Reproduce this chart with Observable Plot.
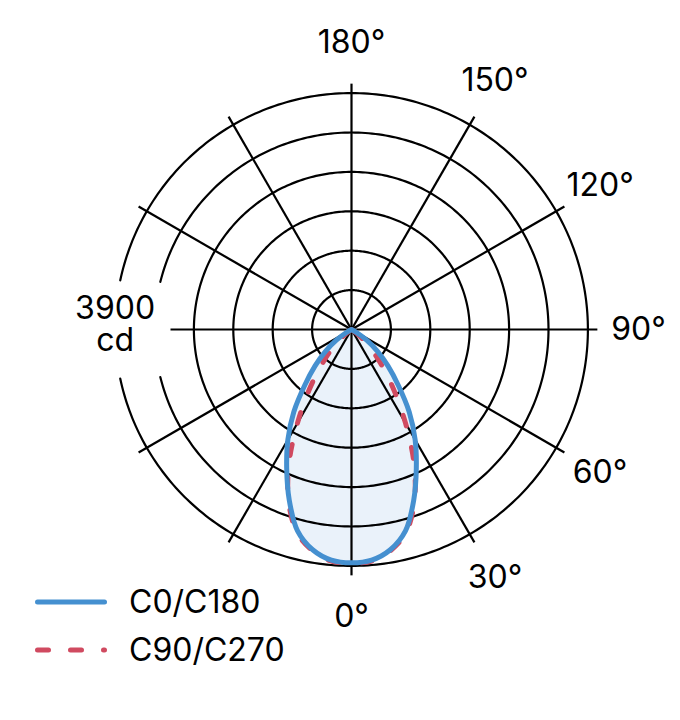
<!DOCTYPE html>
<html>
<head>
<meta charset="utf-8">
<script src="https://cdn.jsdelivr.net/npm/d3@7"></script>
<script src="https://cdn.jsdelivr.net/npm/@observablehq/plot@0.6"></script>
<style>
  body { margin: 0; background: #fff; font-family: Inter, "Liberation Sans", sans-serif; }
  #wrap { position: relative; width: 680px; height: 720px; overflow: hidden; }
  .row { position: absolute; left: 0; height: 40px; display: flex; align-items: center; font-size: 32px; line-height: 40px; color: #000; }
  .row svg { display: block; }
</style>
</head>
<body>
<div id="wrap"></div>
<script>
// ---- data ----
const angles   = [0, 5, 10, 15, 20, 25, 30, 35, 40, 45, 50, 55, 60, 65, 70, 75, 80, 85, 90];
const c0c180   = [3850, 3820, 3690, 3440, 3000, 2530, 2100, 1660, 1200, 850, 560, 300, 90, 10, 0, 0, 0, 0, 0];
const c90c270  = [3850, 3835, 3705, 3470, 3030, 2440, 1780, 1220, 790, 470, 230, 80, 10, 0, 0, 0, 0, 0, 0];
const ringValues = [650, 1300, 1950, 2600, 3250, 3900];
const spokeAngles = [0, 30, 60, 90, 120, 150, 180, 210, 240, 270, 300, 330];
const tickAngles = [0, 30, 60, 90, 120, 150, 180];
const tickLabels = ["0°", "30°", "60°", "90°", "120°", "150°", "180°"];
const scaleLabel = "3900\ncd";
const seriesNames = ["C0/C180", "C90/C270"];
const seriesColors = ["#4590d0", "#d04a60"];
const fillColor = "#eaf2fa";

// ---- geometry ----
const W = 680, H = 720, cx = 351, cy = 329, Rpx = 236.4;
const rMax = ringValues[ringValues.length - 1];
const k = Rpx / rMax;                       // px per cd
const rad = d => d * Math.PI / 180;
const polar = (theta, r) => ({x: r * Math.sin(rad(theta)), y: -r * Math.cos(rad(theta))});

function mirrored(vals) {
  const pts = [];
  for (let i = angles.length - 1; i >= 0; i--) pts.push(polar(-angles[i], vals[i]));
  for (let i = 1; i < angles.length; i++) pts.push(polar(angles[i], vals[i]));
  return pts;
}

// gap in grid behind the scale label
const gapX = 181 / k, gapY = 46 / k;
const ringPts = [];
for (const rv of ringValues) {
  for (let a = 0; a <= 360; a += 1) {
    const p = polar(a, rv);
    if (p.x < -gapX && Math.abs(p.y) < gapY) ringPts.push({ring: rv, x: NaN, y: NaN});
    else ringPts.push({ring: rv, x: p.x, y: p.y});
  }
}
const spokes = spokeAngles.map(a => {
  const len = a === 270 ? gapX : rMax * 1.04;
  const p = polar(a, len);
  return {x1: 0, y1: 0, x2: p.x, y2: p.y};
});
const labelR = 287 / k;
const ticks = tickAngles.map((a, i) => ({...polar(a, labelR), text: tickLabels[i]}));

const chart = Plot.plot({
  width: W,
  height: H,
  margin: 0,
  x: {domain: [-cx / k, (W - cx) / k], axis: null},
  y: {domain: [-(H - cy) / k, cy / k], axis: null},
  style: {fontFamily: "Inter, 'Liberation Sans', sans-serif", background: "#fff", color: "#000"},
  marks: [
    Plot.line(mirrored(c0c180), {x: "x", y: "y", fill: fillColor, stroke: "none", curve: "catmull-rom"}),
    Plot.line(ringPts, {x: "x", y: "y", z: "ring", stroke: "#000", strokeWidth: 2.2, curve: "linear"}),
    Plot.link(spokes, {x1: "x1", y1: "y1", x2: "x2", y2: "y2", stroke: "#000", strokeWidth: 2.2, strokeLinecap: "butt"}),
    Plot.line(mirrored(c90c270), {x: "x", y: "y", stroke: seriesColors[1], strokeWidth: 5, strokeDasharray: "11,22", strokeLinecap: "round", curve: "catmull-rom"}),
    Plot.line(mirrored(c0c180), {x: "x", y: "y", stroke: seriesColors[0], strokeWidth: 5, curve: "catmull-rom"}),
    Plot.text(ticks, {x: "x", y: "y", text: "text", fontSize: 32, fill: "#000", textAnchor: "middle"}),
    Plot.text([scaleLabel], {x: () => -rMax, y: () => 5 / k, text: d => d, fontSize: 32, lineHeight: 1.0, fill: "#000", textAnchor: "middle"})
  ]
});

const wrap = document.getElementById("wrap");
wrap.appendChild(chart);

// legend
const legendTops = [582, 630];
seriesNames.forEach((name, i) => {
  const row = document.createElement("div");
  row.className = "row";
  row.style.top = legendTops[i] + "px";
  const dash = i === 1 ? ' stroke-dasharray="11,22"' : '';
  row.innerHTML = `<svg width="129" height="40"><line x1="37.5" x2="104.5" y1="20" y2="20" stroke="${seriesColors[i]}" stroke-width="5" stroke-linecap="round"${dash}/></svg><span>${name}</span>`;
  wrap.appendChild(row);
});
</script>
</body>
</html>
